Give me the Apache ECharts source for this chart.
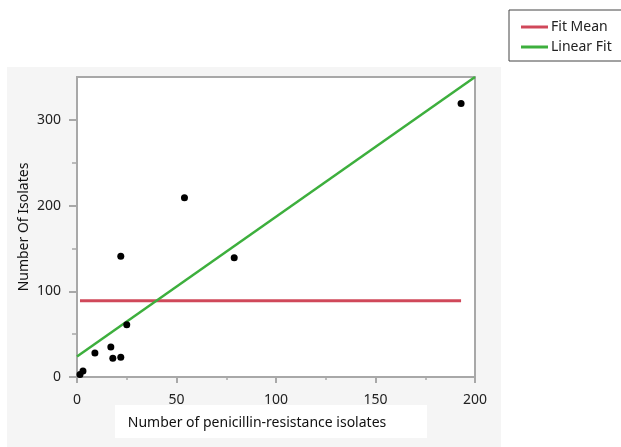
<!DOCTYPE html>
<html>
<head>
<meta charset="utf-8">
<script src="https://cdn.jsdelivr.net/npm/echarts@6/dist/echarts.min.js"></script>
<style>html,body{margin:0;padding:0;background:#fff}#c{width:621px;height:447px}</style>
</head>
<body>
<div id="c"></div>
<script>
// Data
const xVals = [193, 54, 22, 79, 25, 17, 9, 18, 22, 3, 1.5];
const yVals = [319, 209, 141, 139, 61, 35, 28, 22, 23, 7, 3];
const meanX = [1.5, 193];
const meanY = [89, 89];
const fitX = [0, 200];
const fitY = [24, 350];
const xMajor = [0, 50, 100, 150, 200];
const xMinor = [25, 75, 125, 175];
const yMajor = [0, 100, 200, 300];
const yMinor = [50, 150, 250];

const font = 'Noto Sans';
const axisGray = '#a8a8a8';

const chart = echarts.init(document.getElementById('c'), null, {renderer: 'canvas'});
const common = {min: 0, axisLine: {show: true, lineStyle: {color: axisGray, width: 2}}, splitLine: {show: false}};
chart.setOption({
  animation: false,
  textStyle: {fontFamily: font},
  graphic: [
    {type: 'rect', z: -10, shape: {x: 7, y: 67, width: 494, height: 380}, style: {fill: '#f5f5f5'}},
    {type: 'rect', z: -5, shape: {x: 115, y: 405, width: 312, height: 33}, style: {fill: '#ffffff'}}
  ],
  legend: {
    orient: 'vertical', left: 509, top: 10,
    data: ['Fit Mean', 'Linear Fit'],
    icon: 'rect', itemWidth: 27, itemHeight: 3, itemGap: 4,
    padding: [9, 10, 6, 12],
    borderColor: '#444', borderWidth: 1, backgroundColor: '#fff',
    textStyle: {fontFamily: font, fontSize: 14, color: '#222', lineHeight: 16, padding: [0, 0, 0, -2]}
  },
  grid: {left: 77, top: 77, width: 398, height: 300, show: true, backgroundColor: '#fff', borderColor: axisGray, borderWidth: 2},
  xAxis: [
    Object.assign({}, common, {
      type: 'value', max: 200, interval: 50,
      axisTick: {show: true, customValues: xMajor, length: 6, lineStyle: {color: axisGray, width: 2}},
      axisLabel: {customValues: xMajor, fontSize: 14, color: '#222', margin: 16},
      name: 'Number of penicillin-resistance isolates', nameLocation: 'middle', nameGap: 39,
      nameMoveOverlap: false,
      nameTextStyle: {fontSize: 14, color: '#111', padding: [0, 38, 0, 0]}
    }),
    Object.assign({}, common, {
      type: 'value', max: 200, interval: 25, position: 'bottom',
      axisLine: {show: false},
      axisTick: {show: true, customValues: xMinor, length: 3, lineStyle: {color: axisGray, width: 1.5}},
      axisLabel: {show: false}
    })
  ],
  yAxis: [
    Object.assign({}, common, {
      type: 'value', max: 350, interval: 50,
      axisTick: {show: true, customValues: yMajor, length: 8, lineStyle: {color: axisGray, width: 2}},
      axisLabel: {customValues: yMajor, fontSize: 14, color: '#222', margin: 16},
      name: 'Number Of Isolates', nameLocation: 'middle', nameGap: 46,
      nameMoveOverlap: false,
      nameTextStyle: {fontSize: 14, color: '#111'}
    }),
    Object.assign({}, common, {
      type: 'value', max: 350, interval: 50, position: 'left',
      axisLine: {show: false},
      axisTick: {show: true, customValues: yMinor, length: 5, lineStyle: {color: axisGray, width: 1.5}},
      axisLabel: {show: false}
    })
  ],
  series: [
    {
      name: 'Fit Mean', type: 'line', symbol: 'none', z: 3,
      lineStyle: {color: '#d0485a', width: 3}, itemStyle: {color: '#d0485a'},
      data: meanX.map((x, i) => [x, meanY[i]])
    },
    {
      name: 'Linear Fit', type: 'line', symbol: 'none', z: 4, clip: true,
      lineStyle: {color: '#3daf3d', width: 2.5}, itemStyle: {color: '#3daf3d'},
      data: fitX.map((x, i) => [x, fitY[i]])
    },
    {
      name: 'Points', type: 'scatter', symbolSize: 7, z: 5,
      itemStyle: {color: '#000', opacity: 1},
      data: xVals.map((x, i) => [x, yVals[i]])
    }
  ]
});
</script>
</body>
</html>
